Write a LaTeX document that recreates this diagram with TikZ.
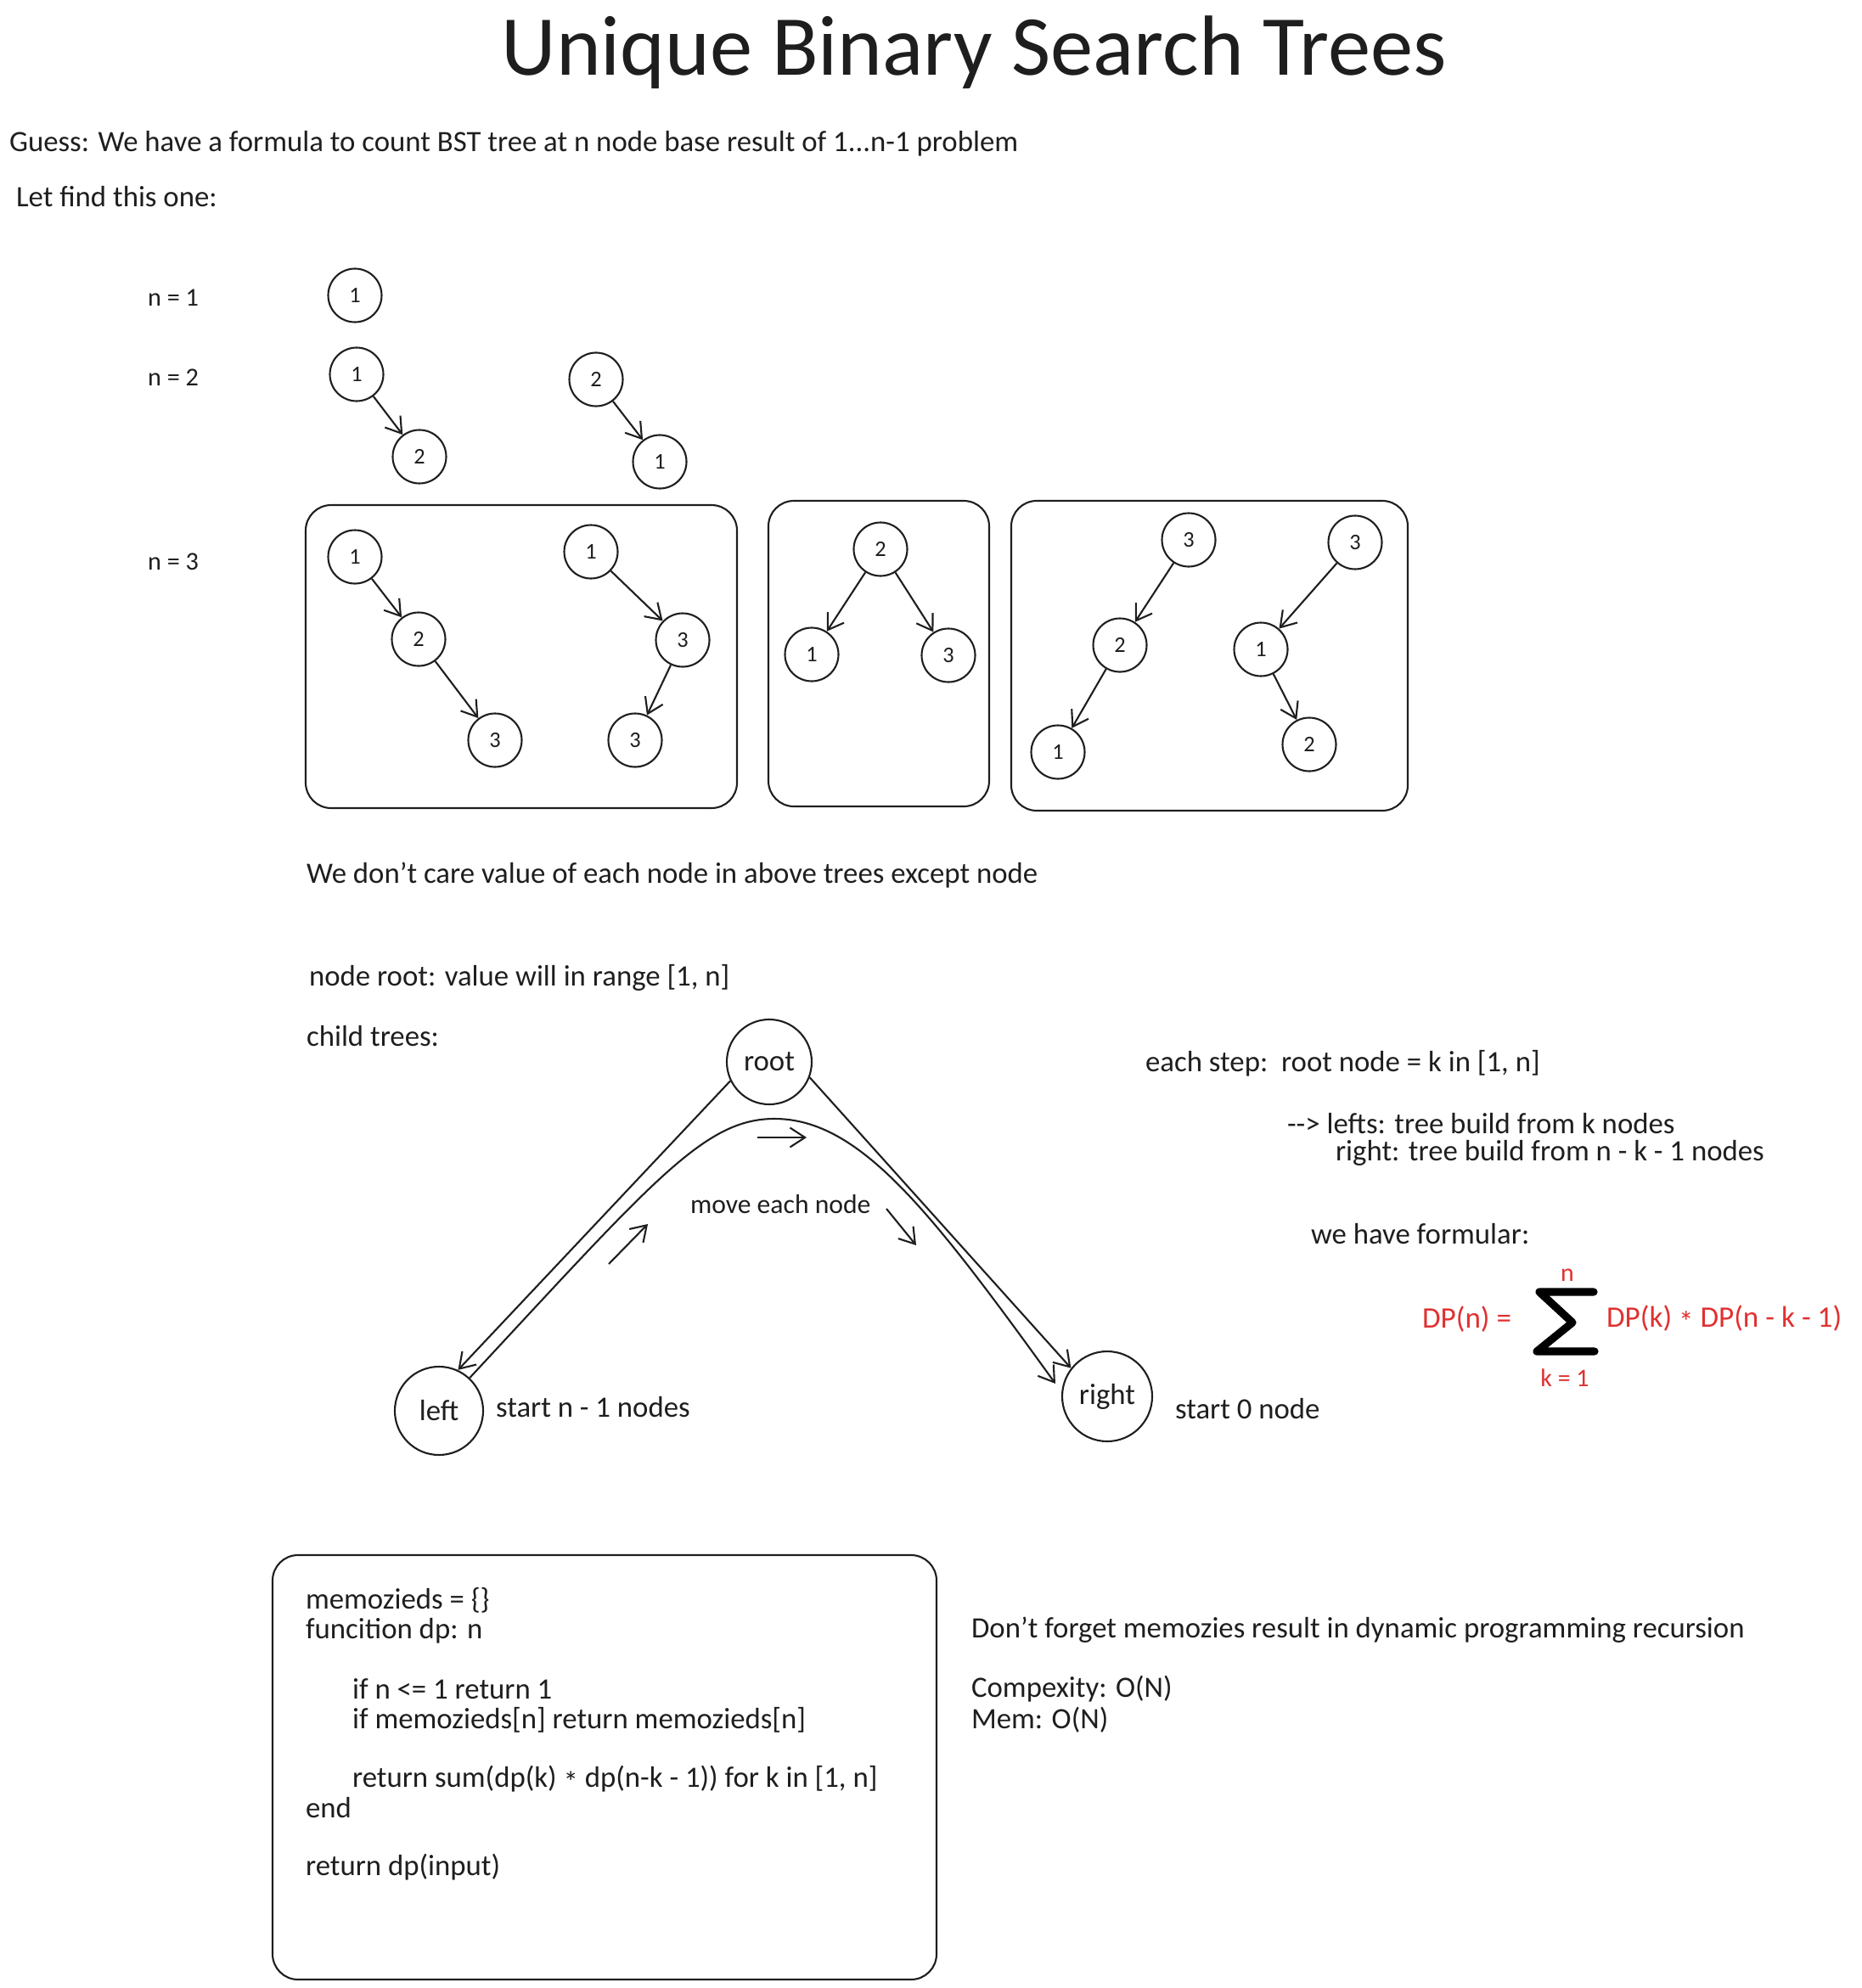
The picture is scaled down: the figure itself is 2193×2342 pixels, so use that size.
\documentclass[tikz,border=0pt]{standalone}
\usepackage{fontspec}
\setmainfont{Carlito}
\usetikzlibrary{arrows.meta}
\definecolor{exred}{HTML}{E03131}
\definecolor{ink}{HTML}{1E1E1E}
\newcommand{\mulstar}{\raisebox{-0.35ex}{*}}
\begin{document}
\begin{tikzpicture}[x=0.1mm,y=-0.1mm,
  line width=0.6pt, draw=ink, text=ink,
  txt/.style={anchor=west, inner sep=0pt, font=\fontsize{9.9}{11}\selectfont},
  small/.style={anchor=west, inner sep=0pt, font=\fontsize{8.6}{9}\selectfont},
  tnode/.style={circle, draw, minimum size=6.3mm, inner sep=0pt, font=\fontsize{7.5}{8}\selectfont},
  bignode/.style={circle, draw, minimum size=10.2mm, inner sep=0pt, font=\fontsize{9.9}{11}\selectfont},
  arr/.style={-{Straight Barb[length=5pt,width=6.5pt]}},
  frame/.style={draw, rounded corners=3mm},
  redtxt/.style={inner sep=0pt, text=exred, font=\fontsize{10}{11}\selectfont}
]
\useasboundingbox (0,0) rectangle (2193,2342);

% title
\node[inner sep=0pt, font=\fontsize{28.6}{32}\selectfont] (title) at (1147,62) {Unique Binary Search Trees};

% intro text
\node[txt] (guess) at (10,169) {Guess: We have a formula to count BST tree at n node base result of 1...n-1 problem};
\node[txt] (letfind) at (18,232) {Let find this one:};

\node[small] (n1) at (173,351) {n = 1};
\node[small] (n2) at (173,445) {n = 2};
\node[small] (n3) at (173,662) {n = 3};

% n = 1
\node[tnode] (a1) at (418,348) {1};
% n = 2
\node[tnode] (b1) at (420,441) {1};
\node[tnode] (b2) at (494,538) {2};
\draw[arr] (b1) -- (b2);
\node[tnode] (c2) at (702,447) {2};
\node[tnode] (c1) at (777,544) {1};
\draw[arr] (c2) -- (c1);

% n = 3 frames
\draw[frame] (360,595) rectangle (868,952);
\draw[frame] (905,590) rectangle (1165,950);
\draw[frame] (1191,590) rectangle (1658,955);

% box 1
\node[tnode] (d1) at (418,656) {1};
\node[tnode] (d2) at (493,753) {2};
\node[tnode] (d3) at (583,872) {3};
\draw[arr] (d1) -- (d2);
\draw[arr] (d2) -- (d3);
\node[tnode] (e1) at (696,650) {1};
\node[tnode] (e3) at (804,754) {3};
\node[tnode] (e2) at (748,872) {3};
\draw[arr] (e1) -- (e3);
\draw[arr] (e3) -- (e2);

% box 2
\node[tnode] (f2) at (1037,647) {2};
\node[tnode] (f1) at (956,771) {1};
\node[tnode] (f3) at (1117,772) {3};
\draw[arr] (f2) -- (f1);
\draw[arr] (f2) -- (f3);

% box 3
\node[tnode] (g3) at (1400,636) {3};
\node[tnode] (g2) at (1319,760) {2};
\node[tnode] (g1) at (1246,886) {1};
\draw[arr] (g3) -- (g2);
\draw[arr] (g2) -- (g1);
\node[tnode] (h3) at (1596,639) {3};
\node[tnode] (h1) at (1485,765) {1};
\node[tnode] (h2) at (1542,877) {2};
\draw[arr] (h3) -- (h1);
\draw[arr] (h1) -- (h2);

% middle texts
\node[txt] (care) at (360,1031) {We don't care value of each node in above trees except node};
\node[txt] (rootrange) at (363,1152) {node root: value will in range [1, n]};
\node[txt] (child) at (360,1221) {child trees:};

% root / left / right diagram
\node[bignode, minimum size=10mm] (root) at (906,1251) {root};
\node[bignode, minimum size=10.4mm] (left) at (517,1662) {left};
\node[bignode, minimum size=10.6mm] (right) at (1304,1645) {right};

\draw[arr] (root.206) -- (left.65);
\draw[arr] (root.-21) -- (right.142);
\draw[arr] (left.47) .. controls (770,1390) and (830,1318) .. (912,1318)
                     .. controls (1012,1318) and (1095,1425) .. (1243,1630);

\coordinate (ua1) at (717,1489);
\coordinate (ua2) at (763,1442);
\draw[arr] (ua1) -- (ua2);
\coordinate (ha1) at (892,1340);
\coordinate (ha2) at (950,1340);
\draw[arr] (ha1) -- (ha2);
\coordinate (da1) at (1044,1424);
\coordinate (da2) at (1079,1467);
\draw[arr] (da1) -- (da2);

\node[txt, font=\fontsize{9}{11}\selectfont] (move) at (812,1419) {move each node};
\node[txt] (startl) at (583,1658) {start n - 1 nodes};
\node[txt] (startr) at (1383,1660) {start 0 node};

% right texts
\node[txt] (each) at (1348,1253) {each step:\ \ root node = k in [1, n]};
\node[txt] (lefts) at (1515,1324) {{-}{-}> lefts: tree build from k nodes};
\node[txt] (rights) at (1572,1358) {right: tree build from n - k - 1 nodes};
\node[txt] (wehave) at (1543,1454) {we have formular:};

% formula
\node[redtxt, anchor=west] (dpn) at (1674,1554) {DP(n) =};
\draw[line width=2.6pt, line cap=round, line join=round, draw=black]
  (1877,1522) -- (1813,1522) -- (1852,1558) -- (1810,1592) -- (1878,1592);
\node[redtxt, font=\fontsize{8.5}{9}\selectfont] (sn) at (1846,1502) {n};
\node[redtxt, font=\fontsize{8.5}{9}\selectfont] (sk) at (1843,1623) {k = 1};
\node[redtxt, anchor=west] (dpk) at (1891,1554) {DP(k) \mulstar{} DP(n\ -\ k\ -\ 1)};

% code box
\draw[frame] (321,1832) rectangle (1103,2332);
\node[txt] (c1l) at (359,1885) {memozieds = \{\}};
\node[txt] (c2l) at (359,1921) {funcition dp: n};
\node[txt] (c3l) at (414,1990) {if n <= 1 return 1};
\node[txt] (c4l) at (414,2026) {if memozieds[n] return memozieds[n]};
\node[txt] (c5l) at (414,2096) {return sum(dp(k) \mulstar{} dp(n-k - 1)) for k in [1, n]};
\node[txt] (c6l) at (359,2130) {end};
\node[txt] (c7l) at (359,2200) {return dp(input)};

\node[txt] (dont) at (1143,1920) {Don't forget memozies result in dynamic programming recursion};
\node[txt] (cplx) at (1143,1990) {Compexity: O(N)};
\node[txt] (mem) at (1143,2026) {Mem: O(N)};
\end{tikzpicture}
\end{document}
